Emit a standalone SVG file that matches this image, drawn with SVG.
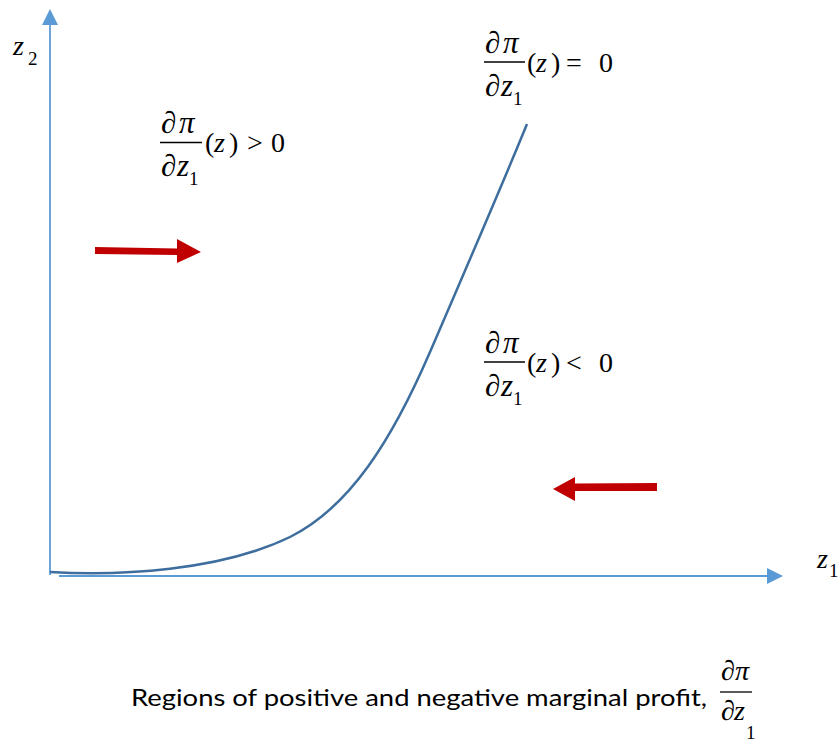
<svg xmlns="http://www.w3.org/2000/svg" width="838" height="743" viewBox="0 0 838 743">
<defs>
<style>
.m{font-family:"Liberation Serif","Times New Roman",serif;font-size:28px;fill:#000}
.d{font-size:31px}
.i{font-style:italic}
.s{font-size:19px}
.t{font-family:Lato,"Open Sans","Liberation Sans",Arial,sans-serif;font-size:24px;fill:#000}
.ax{stroke:#5B9BD5;stroke-width:1.8;fill:none}
.bar{stroke:#000;stroke-width:1.3}
.red{fill:#C00000}
</style>
</defs>
<rect width="838" height="743" fill="#fff"/>
<g id="axes">
<line class="ax" x1="50" y1="22" x2="50" y2="575"/>
<polygon points="50,9 58,25 42,25" fill="#5B9BD5"/>
<line class="ax" x1="59" y1="576" x2="770" y2="576"/>
<polygon points="783,576 767,568 767,584" fill="#5B9BD5"/>
<text class="m i" font-style="italic" x="13" y="55">z</text><text class="m s" x="28" y="65">2</text>
<text class="m i" font-style="italic" x="817" y="568">z</text><text class="m s" x="829" y="577">1</text>
</g>
<g id="connectors">
<path d="M50,572 C120,576 220,571 290,537 C350,507 392,440 430,352 C468,264 500,190 527,124" fill="none" stroke="#3E6E9E" stroke-width="2.5"/>
</g>
<g id="arrow-right">
<polygon class="red" points="95,247 177,248.5 177,239 201,252 177,263 177,255 95,254"/>
</g>
<g id="arrow-left">
<polygon class="red" points="657,483 575,483.5 575,477 553,489 575,501 575,491 657,491"/>
</g>
<g id="label-positive">
<text class="m d" x="161" y="133">∂</text><text class="m d i" font-style="italic" x="179" y="133">π</text>
<line class="bar" x1="160" y1="142.5" x2="202" y2="142.5"/>
<text class="m d" x="161" y="176">∂</text><text class="m d i" font-style="italic" x="177" y="176">z</text><text class="m s" x="189" y="185">1</text>
<text class="m" x="205" y="152">(</text><text class="m i" font-style="italic" x="214" y="152">z</text><text class="m" x="229" y="152">)</text>
<text class="m" x="247" y="152">&gt;</text>
<text class="m" x="271" y="152">0</text>
</g>
<g id="label-zero">
<text class="m d" x="485" y="53">∂</text><text class="m d i" font-style="italic" x="503" y="53">π</text>
<line class="bar" x1="484" y1="62" x2="525" y2="62"/>
<text class="m d" x="485" y="96">∂</text><text class="m d i" font-style="italic" x="501" y="96">z</text><text class="m s" x="513" y="105">1</text>
<text class="m" x="527" y="72">(</text><text class="m i" font-style="italic" x="536" y="72">z</text><text class="m" x="551" y="72">)</text>
<text class="m" x="566" y="72">=</text>
<text class="m" x="599" y="72">0</text>
</g>
<g id="label-negative">
<text class="m d" x="485" y="353">∂</text><text class="m d i" font-style="italic" x="503" y="353">π</text>
<line class="bar" x1="484" y1="362" x2="525" y2="362"/>
<text class="m d" x="485" y="396">∂</text><text class="m d i" font-style="italic" x="501" y="396">z</text><text class="m s" x="513" y="405">1</text>
<text class="m" x="527" y="372">(</text><text class="m i" font-style="italic" x="536" y="372">z</text><text class="m" x="551" y="372">)</text>
<text class="m" x="566" y="372">&lt;</text>
<text class="m" x="599" y="372">0</text>
</g>
<g id="caption">
<text class="t" x="131" y="706" textLength="576" lengthAdjust="spacingAndGlyphs">Regions of positive and negative marginal profit,</text>
<text class="m" x="721" y="680">∂</text><text class="m i" font-style="italic" x="735" y="680">π</text>
<line class="bar" x1="720" y1="692" x2="752" y2="692"/>
<text class="m" x="721" y="720">∂</text><text class="m i" font-style="italic" x="734" y="720">z</text><text class="m s" x="746" y="739">1</text>
</g>
</svg>
